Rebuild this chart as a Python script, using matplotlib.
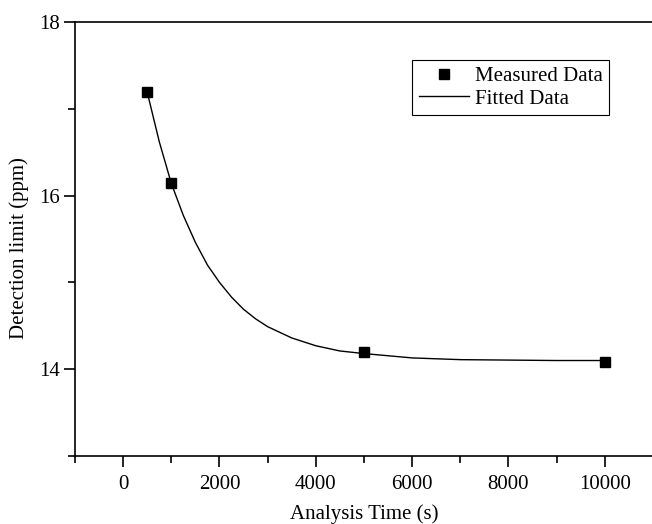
import matplotlib.pyplot as plt
from matplotlib.ticker import MultipleLocator

plt.rcParams['font.family'] = ['Liberation Serif', 'DejaVu Serif']

# measured points
tempo = [500, 1000, 5000, 10000]
limite = [17.19, 16.14, 14.20, 14.08]

# fitted curve
tempo_fit = [500, 750, 1000, 1250, 1500, 1750, 2000, 2250, 2500, 2750, 3000, 3500,
             4000, 4500, 5000, 6000, 7000, 8000, 9000, 10000]
limite_fit = [17.19, 16.62, 16.14, 15.77, 15.46, 15.20, 15.00, 14.83, 14.69, 14.58,
              14.49, 14.36, 14.27, 14.21, 14.18, 14.13, 14.11, 14.105, 14.10, 14.10]

fig = plt.figure(figsize=(6.52, 5.24), dpi=100)
ax = fig.add_axes([75 / 652, 68 / 524, 578 / 652, 434 / 524])

ax.plot(tempo, limite, 's', color='black', markersize=7.2, label='Measured Data')
ax.plot(tempo_fit, limite_fit, '-', color='black', linewidth=1.0, label='Fitted Data')

ax.set_xlim(-1000, 11000)
ax.set_ylim(13, 18)
ax.xaxis.set_major_locator(MultipleLocator(2000))
ax.xaxis.set_minor_locator(MultipleLocator(1000))
ax.yaxis.set_major_locator(MultipleLocator(2))
ax.yaxis.set_minor_locator(MultipleLocator(1))
ax.set_xticks([0, 2000, 4000, 6000, 8000, 10000])

for s in ['left', 'bottom', 'top']:
    ax.spines[s].set_linewidth(1.2)
ax.spines['right'].set_visible(False)

ax.tick_params(which='both', direction='out', top=False, right=False, width=1.2, labelsize=15)
ax.tick_params(which='major', length=8)
ax.tick_params(which='minor', length=5)
ax.tick_params(axis='x', which='major', pad=6)
ax.tick_params(axis='y', which='major', pad=3)

ax.set_xlabel('Analysis Time (s)', fontsize=15)
ax.set_ylabel('Detection limit (ppm)', fontsize=15)
ax.xaxis.set_label_coords(0.5, -0.112)
ax.yaxis.set_label_coords(-0.08, 0.48)

leg = ax.legend(loc='upper right', bbox_to_anchor=(0.924, 0.912), fontsize=15,
                frameon=True, fancybox=False, edgecolor='black', framealpha=1,
                borderpad=0.3, handlelength=2.4, handletextpad=0.3, labelspacing=0.15,
                borderaxespad=0)
leg.get_frame().set_linewidth(0.8)

plt.savefig('out.png', dpi=100)
